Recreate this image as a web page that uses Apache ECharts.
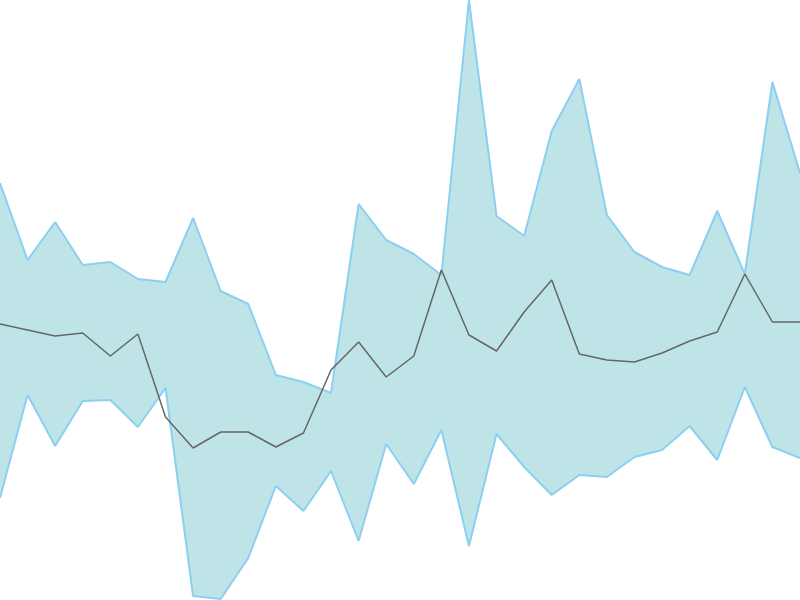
<!DOCTYPE html>
<html>
<head>
<meta charset="utf-8">
<script src="https://cdn.jsdelivr.net/npm/echarts@6/dist/echarts.min.js"></script>
<style>html,body{margin:0;padding:0;background:#fff;}#chart{width:800px;height:600px;}</style>
</head>
<body>
<div id="chart"></div>
<script>
var categories = [];
for (var k = 0; k < 30; k++) categories.push(String(k));
var upperValues = [417, 340, 378, 335, 338, 321, 318, 382, 309, 296, 225, 218, 207, 396, 360, 346, 325, 600, 384, 364, 469, 521, 385, 348, 333, 325, 389, 326, 518, 427];
var middleValues = [276, 270, 264, 267, 244, 266, 183, 152, 168, 168, 153, 167, 230, 258, 223, 244, 330, 265, 249, 288, 320, 246, 240, 238, 247, 259, 268, 326, 278, 278];
var lowerValues = [102, 205, 154, 199, 200, 173, 212, 4, 1, 42, 114, 89, 129, 59, 156, 116, 170, 54, 166, 133, 105, 125, 123, 143, 150, 174, 140, 213, 153, 142];
var bandValues = upperValues.map(function (v, i) { return v - lowerValues[i]; });

var chart = echarts.init(document.getElementById('chart'));
chart.setOption({
  animation: false,
  grid: { left: 0, right: 0, top: 0, bottom: 0 },
  xAxis: { type: 'category', data: categories, boundaryGap: false, show: false },
  yAxis: { type: 'value', min: 0, max: 600, show: false },
  series: [
    { name: 'lower', type: 'line', data: lowerValues, stack: 'band', symbol: 'none',
      lineStyle: { color: '#8ccff2', width: 2 }, z: 3 },
    { name: 'upper', type: 'line', data: bandValues, stack: 'band', symbol: 'none',
      lineStyle: { color: '#8ccff2', width: 2 },
      areaStyle: { color: '#bee4e8', opacity: 1 }, z: 2 },
    { name: 'middle', type: 'line', data: middleValues, symbol: 'none',
      lineStyle: { color: '#666666', width: 1.5 }, z: 4 }
  ]
});
</script>
</body>
</html>
